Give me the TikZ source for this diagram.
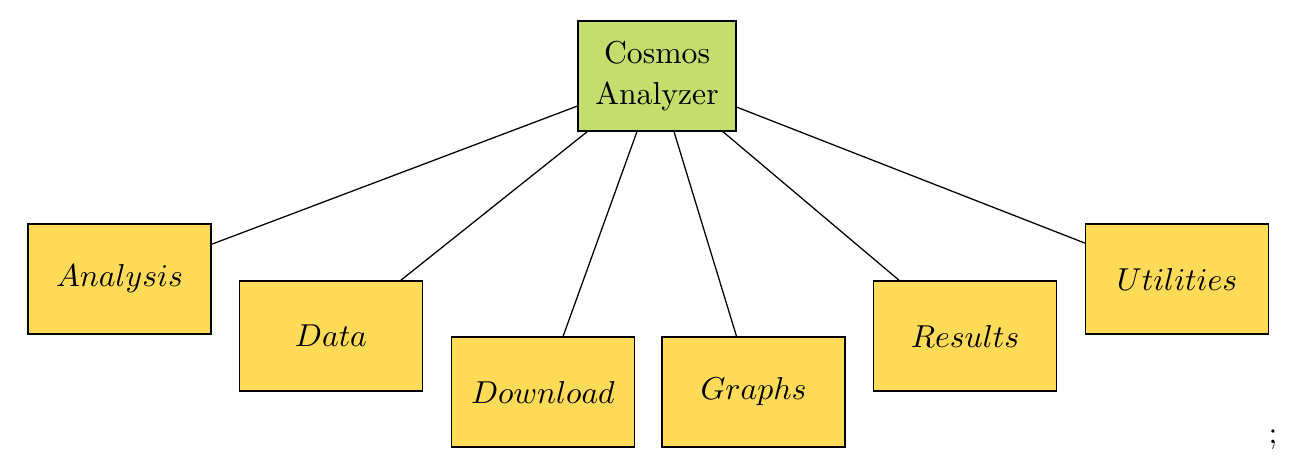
\documentclass[tikz,border=0pt]{standalone}
\definecolor{rootfill}{RGB}{196,222,110}
\definecolor{childfill}{RGB}{255,219,87}
\begin{document}
\begin{tikzpicture}[x=0.3155pt,y=-0.3155pt,
  rootbox/.style={draw=black, fill=rootfill, minimum width=49.85pt, minimum height=34.7pt, inner sep=0pt, align=center},
  childbox/.style={draw=black, fill=childfill, minimum width=57.7pt, minimum height=34.7pt, inner sep=0pt},
  link/.style={draw=black, line width=0.4pt}]
\useasboundingbox (0,0) rectangle (1295,475);
\node[rootbox] (root) at (657,76) {Cosmos\\[1pt]Analyzer};
\node[childbox] (analysis) at (119.5,279) {$Analysis$};
\node[childbox] (data) at (331,336) {$Data$};
\node[childbox] (download) at (543,392) {$Download$};
\node[childbox] (graphs) at (753.5,392) {$Graphs$};
\node[childbox] (results) at (965,336) {$Results$};
\node[childbox] (utilities) at (1177,279) {$Utilities$};
\foreach \c in {analysis,data,download,graphs,results,utilities}
  \draw[link] (root) -- (\c);
\node (semi) at (1273,440) {;};
\end{tikzpicture}
\end{document}
